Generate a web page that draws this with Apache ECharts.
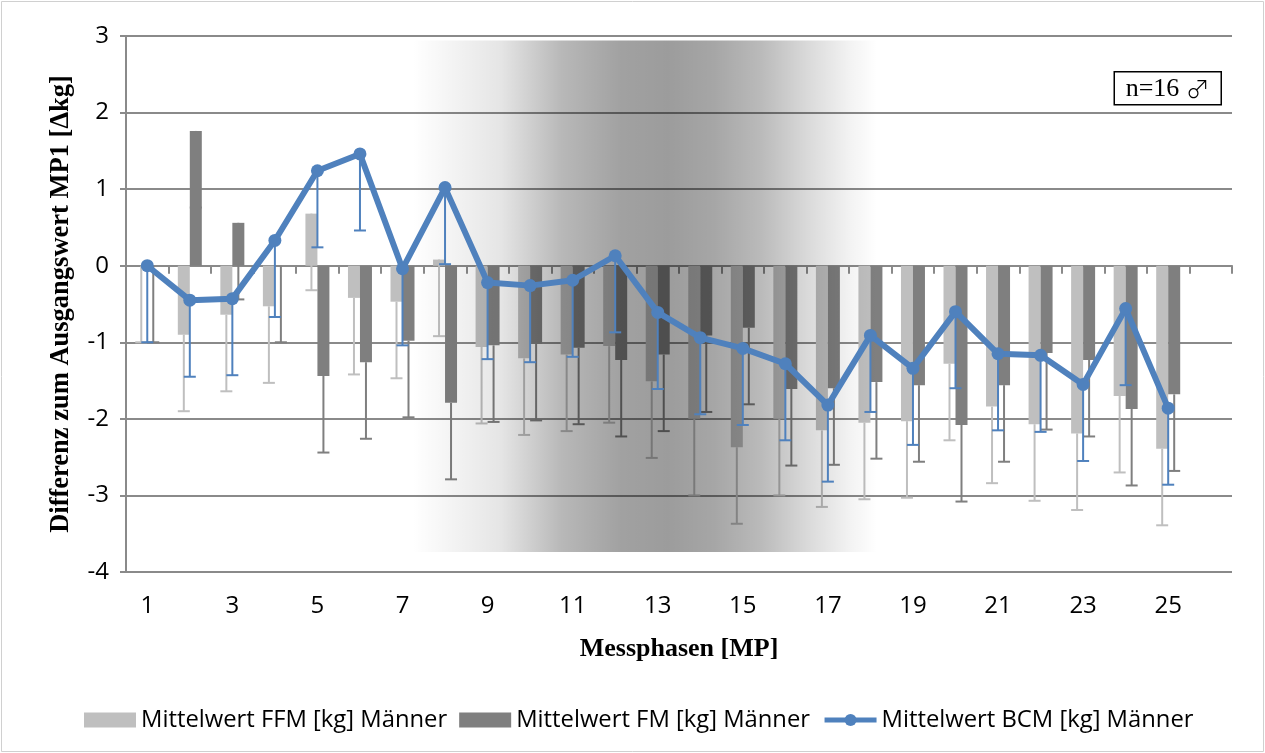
<!DOCTYPE html>
<html>
<head>
<meta charset="utf-8">
<script src="https://cdn.jsdelivr.net/npm/echarts@6/dist/echarts.min.js"></script>
<style>
  html, body { margin: 0; padding: 0; background: #ffffff; }
  #chart { width: 1265px; height: 753px; }
</style>
</head>
<body>
<div id="chart"></div>
<script>
// Measurement phases MP1..MP26 (MP26 has no values yet)
const categories = ['1','2','3','4','5','6','7','8','9','10','11','12','13','14','15','16','17','18','19','20','21','22','23','24','25','26'];
const yTicks = { min: -4, max: 3, step: 1 };

// Mean difference to baseline MP1 in kg, men (n=16)
const ffmMean = [0, -0.90, -0.64, -0.53, 0.68, -0.42, -0.47, 0.08, -1.06, -1.21, -1.16, -1.05, -1.51, -2.00, -2.37, -2.00, -2.15, -2.05, -2.03, -1.28, -1.84, -2.07, -2.19, -1.70, -2.39];
const fmMean  = [0, 1.76, 0.56, 0.00, -1.44, -1.26, -0.98, -1.79, -1.04, -1.02, -1.07, -1.23, -1.16, -0.91, -0.81, -1.61, -1.60, -1.52, -1.56, -2.08, -1.56, -1.14, -1.23, -1.87, -1.68];
const bcmMean = [0, -0.45, -0.43, 0.33, 1.24, 1.46, -0.04, 1.02, -0.22, -0.26, -0.19, 0.13, -0.61, -0.94, -1.08, -1.28, -1.82, -0.91, -1.34, -0.60, -1.15, -1.17, -1.55, -0.56, -1.86];

// Fixed minus-only error amount (kg) used for all three series
const ERROR_MINUS = 1;

const seriesNames = ['Mittelwert FFM [kg] Männer', 'Mittelwert FM [kg] Männer', 'Mittelwert BCM [kg] Männer'];

// Shaded phase band (in MP units / kg units)
const shade = { fromMP: 7.24, toMP: 18.15, top: 2.94, bottom: -3.74 };

const COL_FFM = '#bfbfbf';
const COL_FM = '#7f7f7f';
const COL_BCM = '#4f81bd';
const AXIS_COL = '#8a8a8a';
const SANS = '"Open Sans", "DejaVu Sans", sans-serif';
const SERIF = '"Liberation Serif", "DejaVu Serif", serif';

const chart = echarts.init(document.getElementById('chart'), null, { renderer: 'canvas' });

function errorSeries(values, offset, color, z) {
  return {
    type: 'custom',
    xAxisIndex: 0,
    yAxisIndex: 0,
    z: z,
    silent: true,
    data: values.map((v, i) => [i, v, v - ERROR_MINUS]),
    encode: { x: 0, y: [1, 2] },
    renderItem: function (params, api) {
      const idx = api.value(0);
      const p1 = api.coord([idx, api.value(1)]);
      const p2 = api.coord([idx, api.value(2)]);
      const cx = p1[0] + offset;
      const half = 6;
      return {
        type: 'group',
        children: [
          { type: 'line', shape: { x1: cx, y1: p1[1], x2: cx, y2: p2[1] }, style: { stroke: color, lineWidth: 2 } },
          { type: 'line', shape: { x1: cx - half, y1: p2[1], x2: cx + half, y2: p2[1] }, style: { stroke: color, lineWidth: 2 } }
        ]
      };
    }
  };
}

const option = {
  animation: false,
  backgroundColor: '#ffffff',
  grid: { left: 126, right: 33, top: 36, bottom: 181, containLabel: false },
  legend: {
    left: 79,
    top: 703,
    itemWidth: 52,
    itemHeight: 15,
    itemGap: 12,
    textStyle: { fontFamily: SANS, fontSize: 23.8, color: '#000' },
    data: [
      { name: seriesNames[0], icon: 'rect' },
      { name: seriesNames[1], icon: 'rect' },
      { name: seriesNames[2], lineStyle: { width: 5 } }
    ]
  },
  xAxis: [
    {
      type: 'category',
      data: categories,
      position: 'bottom',
      boundaryGap: true,
      axisLine: { show: false, onZero: false },
      axisTick: { show: false },
      axisLabel: { interval: 1, margin: 22, fontFamily: SANS, fontSize: 24, color: '#000' },
      splitLine: { show: false },
      name: 'Messphasen [MP]',
      nameLocation: 'middle',
      nameGap: 64,
      nameTextStyle: { fontFamily: SERIF, fontWeight: 'bold', fontSize: 26, color: '#000' }
    },
    {
      type: 'category',
      data: categories,
      position: 'bottom',
      boundaryGap: true,
      axisLine: { show: true, onZero: true, onZeroAxisIndex: 0, lineStyle: { color: AXIS_COL, width: 2 } },
      axisTick: { show: true, length: 8, interval: 0, lineStyle: { color: AXIS_COL, width: 2 } },
      axisLabel: { show: false },
      splitLine: { show: false }
    }
  ],
  yAxis: {
    type: 'value',
    min: yTicks.min,
    max: yTicks.max,
    interval: yTicks.step,
    axisLine: { show: true, lineStyle: { color: AXIS_COL, width: 2 } },
    axisTick: { show: true, length: 6, lineStyle: { color: AXIS_COL, width: 2 } },
    axisLabel: { margin: 17, fontFamily: SANS, fontSize: 24, color: '#000' },
    splitLine: { show: true, lineStyle: { color: AXIS_COL, width: 2 } },
    name: 'Differenz zum Ausgangswert MP1 [\u0394kg]',
    nameLocation: 'middle',
    nameRotate: 90,
    nameGap: 51,
    nameTextStyle: { fontFamily: SERIF, fontWeight: 'bold', fontSize: 26.5, color: '#000' }
  },
  series: [
    {
      name: seriesNames[0],
      type: 'bar',
      xAxisIndex: 0,
      data: ffmMean,
      barWidth: 12,
      barGap: '0%',
      itemStyle: { color: COL_FFM },
      z: 2,
      silent: true
    },
    {
      name: seriesNames[1],
      type: 'bar',
      xAxisIndex: 0,
      data: fmMean,
      barWidth: 12,
      barGap: '0%',
      itemStyle: { color: COL_FM },
      z: 2,
      silent: true
    },
    errorSeries(ffmMean, -6, COL_FFM, 2),
    errorSeries(fmMean, 6, COL_FM, 2),
    errorSeries(bcmMean, 0, COL_BCM, 6),
    {
      name: seriesNames[2],
      type: 'line',
      xAxisIndex: 0,
      data: bcmMean,
      symbol: 'circle',
      symbolSize: 13,
      lineStyle: { color: COL_BCM, width: 6 },
      itemStyle: { color: COL_BCM },
      z: 7,
      silent: true
    }
  ]
};

chart.setOption(option);

// Position decorations (shaded band, note box, frame) from axis coordinates
function mpToPixel(mp) {
  const i0 = Math.floor(mp) - 1;
  const a = chart.convertToPixel({ xAxisIndex: 0 }, categories[i0]);
  const b = chart.convertToPixel({ xAxisIndex: 0 }, categories[i0 + 1]);
  return a + (b - a) * (mp - Math.floor(mp));
}
const sx0 = mpToPixel(shade.fromMP);
const sx1 = mpToPixel(shade.toMP);
const sy0 = chart.convertToPixel({ yAxisIndex: 0 }, shade.top);
const sy1 = chart.convertToPixel({ yAxisIndex: 0 }, shade.bottom);

chart.setOption({
  graphic: {
    elements: [
      {
        type: 'rect',
        z: 4,
        silent: true,
        shape: { x: sx0, y: sy0, width: sx1 - sx0, height: sy1 - sy0 },
        style: {
          fill: new echarts.graphic.LinearGradient(0, 0, 1, 0, [
            { offset: 0.00, color: 'rgba(0,0,0,0)' },
            { offset: 0.19, color: 'rgba(0,0,0,0.10)' },
            { offset: 0.32, color: 'rgba(0,0,0,0.28)' },
            { offset: 0.45, color: 'rgba(0,0,0,0.37)' },
            { offset: 0.55, color: 'rgba(0,0,0,0.39)' },
            { offset: 0.65, color: 'rgba(0,0,0,0.35)' },
            { offset: 0.75, color: 'rgba(0,0,0,0.27)' },
            { offset: 0.85, color: 'rgba(0,0,0,0.15)' },
            { offset: 0.94, color: 'rgba(0,0,0,0.05)' },
            { offset: 1.00, color: 'rgba(0,0,0,0)' }
          ])
        }
      },
      {
        type: 'group',
        right: 43,
        top: 71,
        z: 10,
        children: [
          {
            type: 'rect',
            shape: { x: 0, y: 0, width: 107, height: 33 },
            style: { fill: '#ffffff', stroke: '#000000', lineWidth: 1.5 }
          },
          {
            type: 'text',
            x: 53.5,
            y: 17,
            style: {
              text: '{n|n=16 }{s|\u2642}',
              rich: {
                n: { fontFamily: SERIF, fontSize: 26, fill: '#000', color: '#000' },
                s: { fontFamily: '"Noto Sans CJK SC", "DejaVu Sans", sans-serif', fontSize: 24, fontWeight: 300, color: '#000' }
              },
              align: 'center',
              verticalAlign: 'middle'
            }
          }
        ]
      },
      {
        type: 'rect',
        z: 0,
        silent: true,
        shape: { x: 1.5, y: 1.5, width: 1262, height: 750 },
        style: { fill: 'none', stroke: '#d0d0d0', lineWidth: 1 }
      }
    ]
  }
});
</script>
</body>
</html>
